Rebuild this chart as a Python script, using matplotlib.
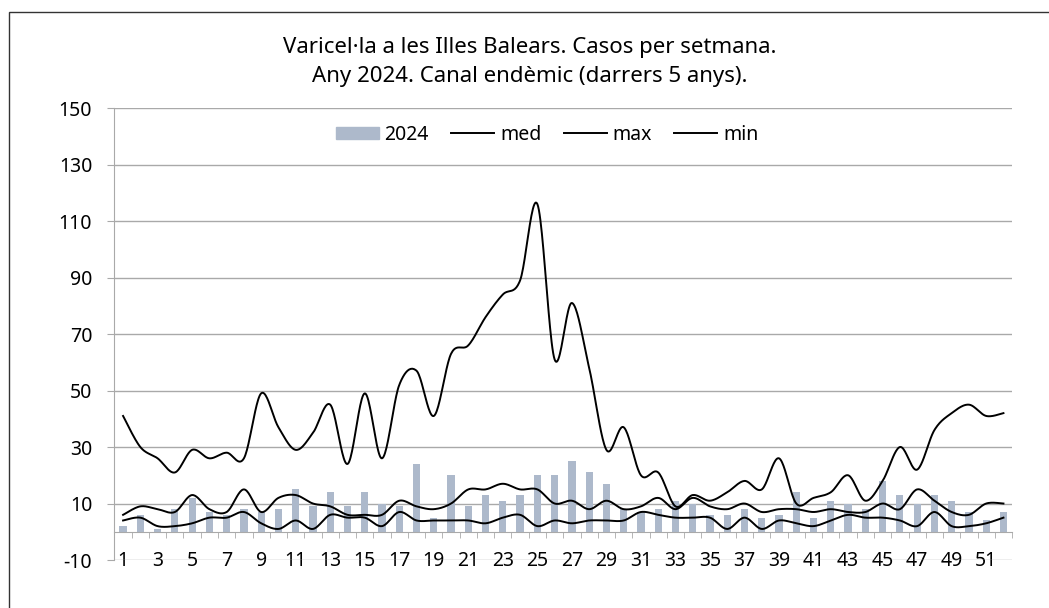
import numpy as np
import matplotlib.pyplot as plt
from matplotlib.patches import Rectangle
from matplotlib.lines import Line2D
from matplotlib.ticker import FixedLocator

plt.rcParams['font.family'] = ['Noto Sans', 'DejaVu Sans']
plt.rcParams['axes.unicode_minus'] = False

weeks = list(range(1, 53))
cases_2024 = [2, 6, 1, 8, 12, 7, 6, 8, 7, 8,
              15, 9, 14, 9, 14, 10, 9, 24, 5, 20,
              9, 13, 11, 13, 20, 20, 25, 21, 17, 8,
              7, 8, 11, 10, 6, 6, 8, 5, 6, 14,
              5, 11, 10, 8, 18, 13, 10, 13, 11, 7,
              4, 7]
med_vals = [6, 9, 8, 7, 13, 8, 7, 15, 7, 12,
            13, 10, 9, 6, 6, 6, 11, 9, 8, 10,
            15, 15, 17, 15, 15, 10, 11, 8, 11, 8,
            9, 12, 8, 12, 9, 8, 10, 7, 8, 8,
            7, 8, 7, 7, 10, 8, 15, 11, 7, 6,
            10, 10]
max_vals = [41, 30, 26, 21, 29, 26, 28, 26, 49, 37,
            29, 35, 45, 24, 49, 26, 52, 57, 41, 63,
            66, 76, 84, 89, 116, 61, 81, 58, 29, 37,
            20, 21, 9, 13, 11, 14, 18, 15, 26, 10,
            12, 14, 20, 11, 18, 30, 22, 36, 42, 45,
            41, 42]
min_vals = [4, 5, 2, 2, 3, 5, 5, 7, 3, 1,
            4, 1, 6, 5, 5, 2, 7, 4, 4, 4,
            4, 3, 5, 6, 2, 4, 3, 4, 4, 4,
            7, 6, 5, 5, 5, 1, 5, 1, 4, 3,
            2, 4, 6, 5, 5, 4, 2, 7, 2, 2,
            3, 5]

title = "Varicel·la a les Illes Balears. Casos per setmana.\nAny 2024. Canal endèmic (darrers 5 anys)."
bar_color = '#adb9cb'
grid_color = '#a9a9a9'


def smooth(x, y, n=24):
    # catmull-rom through the points, drawn as cubic bezier pieces
    x = np.asarray(x, float)
    y = np.asarray(y, float)
    px = np.concatenate([[x[0]], x, [x[-1]]])
    py = np.concatenate([[y[0]], y, [y[-1]]])
    t = np.linspace(0, 1, n)[:, None]
    out = []
    for i in range(len(x) - 1):
        p0 = np.array([px[i], py[i]])
        p1 = np.array([px[i + 1], py[i + 1]])
        p2 = np.array([px[i + 2], py[i + 2]])
        p3 = np.array([px[i + 3], py[i + 3]])
        c1 = p1 + (p2 - p0) / 6
        c2 = p2 - (p3 - p1) / 6
        seg = ((1 - t) ** 3) * p1 + 3 * ((1 - t) ** 2) * t * c1 + 3 * (1 - t) * t ** 2 * c2 + t ** 3 * p2
        out.append(seg if i == 0 else seg[1:])
    out = np.vstack(out)
    return out[:, 0], out[:, 1]


fig = plt.figure(figsize=(10.49, 6.08), dpi=100)
ax = fig.add_axes([0.1091, 0.0789, 0.8557, 0.7434])

ax.bar(weeks, cases_2024, width=0.42, color=bar_color, zorder=2)
for vals in (med_vals, max_vals, min_vals):
    sx, sy = smooth(weeks, vals)
    ax.plot(sx, sy, color='black', lw=1.4, zorder=3)

ax.set_xlim(0.5, 52.5)
ax.set_ylim(-10, 150)
ax.set_yticks(range(-10, 151, 20))
ax.yaxis.grid(True, color=grid_color, lw=1.0)
ax.set_axisbelow(True)

for s in ('top', 'right'):
    ax.spines[s].set_visible(False)
ax.spines['left'].set_color(grid_color)
ax.spines['bottom'].set_color(grid_color)
ax.spines['bottom'].set_position(('data', 0))

ax.set_xticks(weeks[::2])
ax.xaxis.set_minor_locator(FixedLocator(np.arange(0.5, 53, 1)))
ax.tick_params(axis='x', which='major', length=0, labelsize=14, pad=14)
ax.tick_params(axis='x', which='minor', length=4, color=grid_color, direction='out')
ax.tick_params(axis='y', length=5, color=grid_color, labelsize=14, pad=11)

fig.text(0.5052, 1 - 62 / 608, title, ha='center', va='center', fontsize=16, linespacing=1.55)

handles = [Rectangle((0, 0), 1, 1, color=bar_color),
           Line2D([], [], color='black', lw=1.4),
           Line2D([], [], color='black', lw=1.4),
           Line2D([], [], color='black', lw=1.4)]
fig.legend(handles, ['2024', 'med', 'max', 'min'], loc='center',
           bbox_to_anchor=(0.5215, 1 - 135 / 608), ncol=4, frameon=False,
           fontsize=14, handlelength=2.2, handletextpad=0.3, columnspacing=1.16,
           handleheight=0.6)

fig.patches.append(Rectangle((9 / 1049, -0.2), 1.2, 1.2 - 12 / 608,
                             transform=fig.transFigure, fill=False,
                             edgecolor='#333333', lw=1.0))

fig.savefig('out.png', dpi=100)
